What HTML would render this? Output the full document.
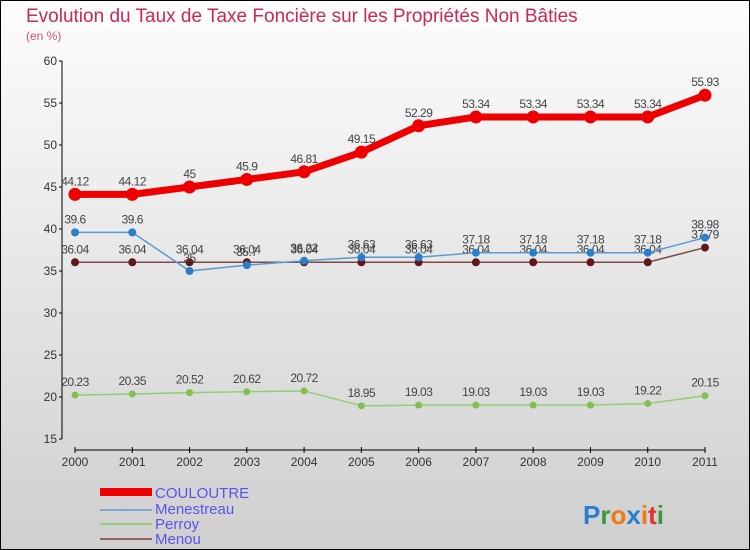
<!DOCTYPE html>
<html><head><meta charset="utf-8"><style>
body{margin:0}
svg{display:block;font-family:"Liberation Sans",sans-serif}
</style></head><body>
<svg width="750" height="550" viewBox="0 0 750 550">
<defs><linearGradient id="bg" x1="0" y1="0" x2="0" y2="1"><stop offset="0" stop-color="#fdfdfd"/><stop offset="1" stop-color="#cfcfcf"/></linearGradient></defs>
<rect x="0.5" y="0.5" width="749" height="549" fill="url(#bg)" stroke="#000"/>
<text x="26" y="22" font-size="19" fill="#c8285a">Evolution du Taux de Taxe Foncière sur les Propriétés Non Bâties</text>
<text x="26" y="40" font-size="12" fill="#d0507a">(en %)</text>
<g id="axes"></g>
<g id="series"></g>
<g>
<rect x="100" y="488" width="52" height="8" fill="#e00"/>
<text x="155" y="498" font-size="15" fill="#5555ee">COULOUTRE</text>
<rect x="100" y="509" width="52" height="2" fill="#7aa8d0"/>
<text x="155" y="514" font-size="15" fill="#5555ee">Menestreau</text>
<rect x="100" y="523" width="52" height="2" fill="#90d070"/>
<text x="155" y="529" font-size="15" fill="#5555ee">Perroy</text>
<rect x="100" y="538" width="52" height="2" fill="#906060"/>
<text x="155" y="544" font-size="15" fill="#5555ee">Menou</text>
</g>
<g font-size="26" font-weight="bold">
<text x="583" y="524"><tspan fill="#2a7fd0">P</tspan><tspan fill="#3a9a3a">r</tspan><tspan fill="#f07a10">o</tspan><tspan fill="#2a7fd0">x</tspan><tspan fill="#f07a10">i</tspan><tspan fill="#e03030">t</tspan><tspan fill="#3a9a3a">i</tspan></text>
</g>
</svg>
<script>
const years=["2000","2001","2002","2003","2004","2005","2006","2007","2008","2009","2010","2011"];
const yTicks=[15,20,25,30,35,40,45,50,55,60];
const couloutre=[44.12,44.12,45,45.9,46.81,49.15,52.29,53.34,53.34,53.34,53.34,55.93];
const menestreau=[39.6,39.6,35,35.7,36.22,36.63,36.63,37.18,37.18,37.18,37.18,38.98];
const perroy=[20.23,20.35,20.52,20.62,20.72,18.95,19.03,19.03,19.03,19.03,19.22,20.15];
const menou=[36.04,36.04,36.04,36.04,36.04,36.04,36.04,36.04,36.04,36.04,36.04,37.79];
const NS="http://www.w3.org/2000/svg";
const x=i=>75+i*(630/11);
const y=v=>439-(v-15)*(378/45);
function mk(tag,attrs,parent){const e=document.createElementNS(NS,tag);for(const k in attrs)e.setAttribute(k,attrs[k]);parent.appendChild(e);return e;}
const ax=document.getElementById('axes');
let yl=mk('line',{x1:62,y1:61,x2:62,y2:439,stroke:'#000'},ax);


yTicks.forEach(t=>{
 const tk=mk('line',{x1:59,y1:y(t),x2:62,y2:y(t),stroke:'#000'},ax);
 
 
 const tx=mk('text',{x:57,y:y(t)+4,'font-size':12,fill:'#333','text-anchor':'end'},ax);
 tx.textContent=t;
 
 
});
let xl=mk('line',{x1:75,y1:450,x2:705,y2:450,stroke:'#000'},ax);


years.forEach((yr,i)=>{
 const tk=mk('line',{x1:x(i),y1:447,x2:x(i),y2:453,stroke:'#000'},ax);
 
 
 const tx=mk('text',{x:x(i),y:466,'font-size':12,fill:'#333','text-anchor':'middle'},ax);
 tx.textContent=yr;
 
 
});
const sg=document.getElementById('series');
function series(name,vals,color,w,r,dot){
 const g=mk('g',{},sg);
 
 
 const p=mk('polyline',{points:vals.map((v,i)=>x(i)+','+y(v)).join(' '),fill:'none',stroke:color,'stroke-width':w,'stroke-linejoin':'round'},g);
 
 
 vals.forEach((v,i)=>{
  const c=mk('circle',{cx:x(i),cy:y(v),r:r,fill:dot},g);
  
  
  const t=mk('text',{x:x(i),y:y(v)-9,'font-size':12,fill:'#444','text-anchor':'middle','letter-spacing':'-0.5'},g);
  t.textContent=v;
  
  
 });
}
series('perroy',perroy,'#90d070',1.5,3.5,'#80c050');
series('menou',menou,'#804848',1.5,4,'#601818');
series('menestreau',menestreau,'#5a9ad0',1.5,4,'#2a80c8');
series('couloutre',couloutre,'#e00',7,6.5,'#e00');
</script>
</body></html>
